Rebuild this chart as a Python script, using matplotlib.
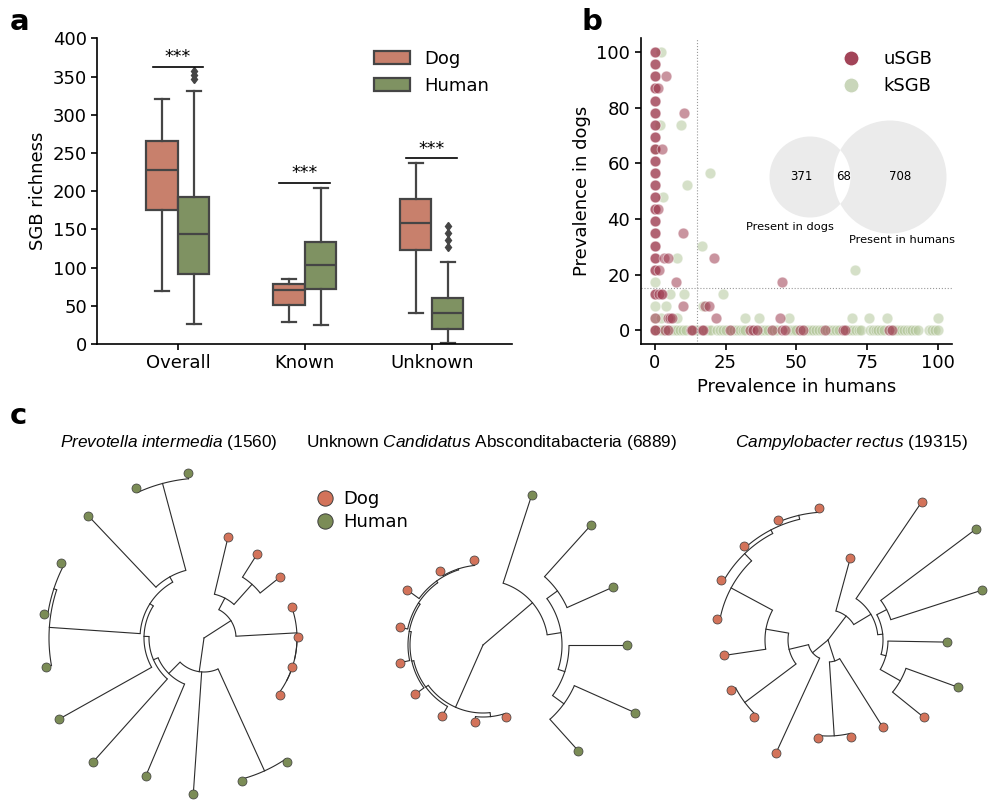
import matplotlib
matplotlib.use('Agg')
import matplotlib.pyplot as plt
import numpy as np
from matplotlib.patches import Patch, Circle
from matplotlib.lines import Line2D

plt.rcParams['font.family'] = 'DejaVu Sans'
plt.rcParams['mathtext.fontset'] = 'custom'
plt.rcParams['mathtext.it'] = 'Liberation Sans:italic'
plt.rcParams['mathtext.rm'] = 'Liberation Sans'

# ---------------- data: panel a (box statistics) ----------------
categories = ['Overall', 'Known', 'Unknown']
hosts = ['Dog', 'Human']
box_whislo = {'Dog': [70, 29, 41], 'Human': [26, 25, 1]}
box_q1 = {'Dog': [175, 51, 123], 'Human': [91, 71.5, 19]}
box_med = {'Dog': [228, 70.5, 158], 'Human': [143.5, 103.5, 40]}
box_q3 = {'Dog': [266, 78, 190], 'Human': [192, 133.5, 60]}
box_whishi = {'Dog': [320, 85.5, 237.5], 'Human': [331.5, 204.5, 107]}
box_fliers = {'Dog': [[], [], []], 'Human': [[347, 352, 357], [], [127, 136, 145, 154]]}
sig_heights = [363, 211, 243]

# ---------------- data: panel b ----------------
usgb_col_y = [100, 100, 95.7, 95.7, 91.3, 91.3, 87.0, 87.0, 82.6, 82.6, 78.3, 78.3,
              73.9, 73.9, 69.6, 69.6, 65.2, 65.2, 60.9, 60.9, 56.5, 56.5, 52.2, 52.2,
              47.8, 47.8, 43.5, 43.5, 39.1, 39.1, 34.8, 34.8, 30.4, 30.4, 26.1, 26.1,
              21.7, 21.7, 13.0, 13.0, 4.3, 0.0, 0.0]
usgb_x = [1.2, 1.0, 1.5, 2.0, 3.9, 2.7, 10.4, 9.8, 3.3, 4.8, 21.0, 7.3, 45.0, 1.5,
          2.5, 9.8, 17.6, 19.2, 4.7, 5.5, 6.2, 21.6, 44.2]
usgb_y = [87.0, 43.5, 21.7, 13.0, 91.3, 65.2, 78.3, 34.8, 26.1, 26.1, 26.1, 17.4, 17.4, 13.0,
          13.0, 8.7, 8.7, 8.7, 4.3, 4.3, 4.3, 4.3, 4.3]
usgb_zero_x = [3.5, 4.7, 12.6, 13.3, 16.5, 17.1, 26.5, 33.6, 34.8, 36.0, 41.3, 44.8,
               46.0, 51.3, 52.5, 60.1, 66.4, 67.2, 82.9, 83.7]

ksgb_x = [2.1, 1.8, 0.0, 2.8, 0.0, 0.0, 0.0, 9.3, 19.5, 11.2, 16.6, 7.9, 70.8, 5.3,
          10.3, 24.0, 3.9, 16.9, 2.0, 7.8, 31.8, 36.9, 47.4, 69.8, 75.5, 82.0, 100.0]
ksgb_y = [100, 73.9, 65.2, 47.8, 17.4, 8.7, 4.3, 73.9, 56.5, 52.2, 30.4, 26.1, 21.7, 13.0,
          13.0, 13.0, 8.7, 8.7, 4.3, 4.3, 4.3, 4.3, 4.3, 4.3, 4.3, 4.3, 4.3]
ksgb_zero_x = [0, 1, 2, 3, 5, 6, 7, 8, 9, 10, 11, 14, 15, 18, 19, 20, 22, 23, 24, 25,
               27, 28, 29, 30, 31, 32, 35, 37, 38, 39, 40, 42, 43, 47, 48, 49, 50, 53,
               54, 55, 56, 57, 58, 59, 61, 62, 63, 64, 65, 68, 69, 70, 71, 72, 73, 76,
               77, 78, 79, 80, 81, 84, 85, 86, 87, 88, 89, 90, 91, 92, 93, 97, 98, 99, 100]
prev_cut = 15
venn_counts = ['371', '68', '708']
venn_labels = ['Present in dogs', 'Present in humans']

# ---------------- data: panel c (circular trees) ----------------
tree_titles = [r'$\mathit{Prevotella\ intermedia}$ (1560)',
               r'Unknown $\mathit{Candidatus}$ Absconditabacteria (6889)',
               r'$\mathit{Campylobacter\ rectus}$ (19315)']
# D = dog, H = human; tips ordered clockwise
tree1_tips = 'DDDDDDDHHHHHHHHHHHH'
tree1_tip_r = [104, 99, 98, 93, 94, 93, 95, 149, 148, 156, 150, 167, 166, 161, 162, 161, 168, 165, 166]
tree1_nodes = [([1, 2], 72), ([0, 19], 45), ([5, 6], 93), ([4, 21], 93), ([3, 22], 93),
               ([20, 23], 32), ([7, 8], 146), ([17, 18], 160), ([16, 26], 70), ([14, 15], 158),
               ([13, 28], 155), ([27, 29], 64), ([12, 30], 60), ([11, 31], 55), ([10, 32], 50),
               ([25, 9, 33], 34), ([24, 34], 0)]

tree2_tips = 'HHHHHHDDDDDDDDD'
tree2_tip_r = [158, 162, 142, 144, 166, 142, 76, 77, 82, 84, 85, 85, 94, 85, 85]
tree2_nodes = [([1, 2], 92), ([4, 5], 100), ([3, 16], 86), ([15, 17], 79), ([0, 18], 65),
               ([6, 7], 72), ([13, 14], 80), ([12, 21], 79), ([11, 22], 77), ([10, 23], 75),
               ([9, 24], 73), ([8, 25], 71), ([20, 26], 68), ([19, 27], 0)]

tree3_tips = 'DDDDDDDDDDDHHHHDDDD'
tree3_tip_r = [124, 107, 109, 105, 113, 123, 126, 130, 132, 85, 167, 185, 162, 119, 138, 123, 103, 100, 98]
tree3_nodes = [([1, 2], 104), ([7, 8], 128), ([6, 20], 124), ([5, 21], 120), ([4, 22], 110),
               ([3, 23], 63), ([19, 24], 40), ([0, 25], 20), ([14, 15], 83), ([13, 27], 60),
               ([11, 12], 66), ([29, 28], 55), ([10, 30], 50), ([9, 31], 30), ([17, 18], 96),
               ([16, 33], 22), ([26, 32, 34], 0)]

# ---------------- styling ----------------
dog_c = '#c8806c'
hum_c = '#7f9262'
line_c = '#454545'
usgb_c = '#9e3c50'
ksgb_c = '#b4c79b'
tip_dog = '#d3735a'
tip_hum = '#7b8c56'

fig = plt.figure(figsize=(10, 8.1), dpi=100)

# ================= panel a =================
axa = fig.add_axes([0.0973, 0.5753, 0.4144, 0.3774])
off = 0.125
for h, sign, col in [('Dog', -1, dog_c), ('Human', 1, hum_c)]:
    stats = []
    for i in range(len(categories)):
        stats.append(dict(whislo=box_whislo[h][i], q1=box_q1[h][i], med=box_med[h][i],
                          q3=box_q3[h][i], whishi=box_whishi[h][i], fliers=box_fliers[h][i]))
    pos = np.arange(len(categories)) + sign * off
    bp = axa.bxp(stats, positions=pos, widths=0.245, patch_artist=True, capwidths=0.11,
                 boxprops=dict(edgecolor=line_c, linewidth=1.6),
                 medianprops=dict(color=line_c, linewidth=1.6),
                 whiskerprops=dict(color=line_c, linewidth=1.6),
                 capprops=dict(color=line_c, linewidth=1.6),
                 flierprops=dict(marker='d', markerfacecolor=line_c, markeredgecolor=line_c,
                                 markersize=4.5))
    for b in bp['boxes']:
        b.set_facecolor(col)

for i, hgt in enumerate(sig_heights):
    axa.plot([i - 0.2, i + 0.2], [hgt, hgt], color='black', lw=1.2)
    axa.text(i, hgt + 1, '***', ha='center', va='bottom', fontsize=12.5)

axa.set_xlim(-0.635, 2.63)
axa.set_ylim(0, 400)
axa.set_yticks(np.arange(0, 401, 50))
axa.set_xticks(range(len(categories)))
axa.set_xticklabels(categories)
axa.set_ylabel('SGB richness', fontsize=13)
axa.tick_params(labelsize=13, width=1.2, length=4)
for s in ['top', 'right']:
    axa.spines[s].set_visible(False)
for s in ['left', 'bottom']:
    axa.spines[s].set_linewidth(1.2)
axa.legend(handles=[Patch(facecolor=dog_c, edgecolor=line_c, lw=1.6, label='Dog'),
                    Patch(facecolor=hum_c, edgecolor=line_c, lw=1.6, label='Human')],
           loc='upper left', bbox_to_anchor=(0.374, 1 - 50 / 810), bbox_transform=fig.transFigure,
           frameon=False, fontsize=13, handlelength=2.0, handleheight=0.75,
           handletextpad=0.8, labelspacing=0.5, borderpad=0, borderaxespad=0)

# ================= panel b =================
axb = fig.add_axes([0.6407, 0.5753, 0.3113, 0.3774])
kw = dict(s=60, edgecolors='white', linewidths=0.6)
axb.scatter(ksgb_zero_x, np.zeros(len(ksgb_zero_x)), color=ksgb_c, alpha=0.55, **kw)
axb.scatter(ksgb_x, ksgb_y, color=ksgb_c, alpha=0.55, **kw)
axb.scatter(np.zeros(len(usgb_col_y)), usgb_col_y, color=usgb_c, alpha=0.55, **kw)
axb.scatter(usgb_x, usgb_y, color=usgb_c, alpha=0.55, **kw)
axb.scatter(usgb_zero_x, np.zeros(len(usgb_zero_x)), color=usgb_c, alpha=0.55, **kw)
axb.axvline(prev_cut, color='#999999', lw=0.8, ls=':')
axb.axhline(prev_cut, color='#999999', lw=0.8, ls=':')
axb.set_xlim(-5, 105)
axb.set_ylim(-5, 105)
axb.set_xticks([0, 25, 50, 75, 100])
axb.set_yticks([0, 20, 40, 60, 80, 100])
axb.set_xlabel('Prevalence in humans', fontsize=13)
axb.set_ylabel('Prevalence in dogs', fontsize=13)
axb.tick_params(labelsize=13, width=1.2, length=4)
for s in ['top', 'right']:
    axb.spines[s].set_visible(False)
for s in ['left', 'bottom']:
    axb.spines[s].set_linewidth(1.2)
axb.legend(handles=[Line2D([], [], ls='', marker='o', markersize=11, color='#a24458',
                           markeredgecolor='white', label='uSGB'),
                    Line2D([], [], ls='', marker='o', markersize=11, color='#c9d6ba',
                           markeredgecolor='white', label='kSGB')],
           loc='upper left', bbox_to_anchor=(0.842, 1 - 50 / 810), bbox_transform=fig.transFigure,
           frameon=False, fontsize=13, handlelength=1.0, handletextpad=1.3,
           labelspacing=0.5, borderpad=0, borderaxespad=0)

# venn inset (pixel coordinates)
axv = fig.add_axes([0.74, 1 - 255 / 810, 0.23, 140 / 810])
axv.set_xlim(740, 970)
axv.set_ylim(255, 115)
axv.axis('off')
c_left = Circle((810, 177), 40.5, fc='#ebebeb', ec='none')
c_right = Circle((890, 177), 56.5, fc='#ebebeb', ec='none')
axv.add_patch(c_left)
axv.add_patch(c_right)
lens = Circle((810, 177), 40.5, fc='white', ec='none')
axv.add_patch(lens)
lens.set_clip_path(c_right)
for txt, xp in zip(venn_counts, [801.5, 844, 900.5]):
    axv.text(xp, 176.5, txt, ha='center', va='center', fontsize=8.5)
axv.text(790, 226.5, venn_labels[0], ha='center', va='center', fontsize=8.2)
axv.text(902, 240, venn_labels[1], ha='center', va='center', fontsize=8.2)

# ================= panel c =================
axc = fig.add_axes([0, 0, 1, 390 / 810])
axc.set_xlim(0, 1000)
axc.set_ylim(810, 420)
axc.axis('off')


def draw_tree(ax, cx, cy, theta0, tips, tip_r, nodes):
    n = len(tips)
    step = 360.0 / n
    ang = [theta0 - i * step for i in range(n)]
    rad = list(tip_r)
    for kids, r in nodes:
        ang.append(np.mean([ang[c] for c in kids]))
        rad.append(r)

    def xy(a, r):
        t = np.radians(a)
        return cx + r * np.cos(t), cy - r * np.sin(t)

    for kids, r in nodes:
        a = [ang[c] for c in kids]
        x, y = xy(np.linspace(min(a), max(a), 80), r)
        ax.plot(x, y, color='#2b2b2b', lw=0.8, solid_capstyle='butt')
        for c in kids:
            x, y = xy(np.array([ang[c], ang[c]]), np.array([r, rad[c]]))
            ax.plot(x, y, color='#2b2b2b', lw=0.8)
    for i, g in enumerate(tips):
        x, y = xy(ang[i], rad[i])
        ax.plot(x, y, 'o', ms=6.5, mfc=tip_dog if g == 'D' else tip_hum,
                mec='#3d3d3d', mew=0.5, zorder=3)


draw_tree(axc, 204, 638, 76.6, tree1_tips, tree1_tip_r, tree1_nodes)
draw_tree(axc, 483, 645, 72.0, tree2_tips, tree2_tip_r, tree2_nodes)
draw_tree(axc, 828, 640, 245.3, tree3_tips, tree3_tip_r, tree3_nodes)

for title, xc in zip(tree_titles, [169, 492, 851]):
    axc.text(xc, 443, title, ha='center', va='center', fontsize=12.4, family='Liberation Sans')

axc.legend(handles=[Line2D([], [], ls='', marker='o', markersize=11, mfc=tip_dog, mec='#3d3d3d',
                           mew=0.7, label='Dog'),
                    Line2D([], [], ls='', marker='o', markersize=11, mfc=tip_hum, mec='#3d3d3d',
                           mew=0.7, label='Human')],
           loc='upper left', bbox_to_anchor=(0.318, 1 - 490 / 810), bbox_transform=fig.transFigure,
           frameon=False, fontsize=13, handlelength=0.8, handletextpad=0.6,
           labelspacing=0.3, borderpad=0, borderaxespad=0)

# panel letters
fig.text(0.010, 1 - 22 / 810, 'a', fontsize=21, weight='bold', va='center')
fig.text(0.582, 1 - 22 / 810, 'b', fontsize=21, weight='bold', va='center')
fig.text(0.010, 1 - 416 / 810, 'c', fontsize=21, weight='bold', va='center')

fig.savefig('out.png', dpi=100)
